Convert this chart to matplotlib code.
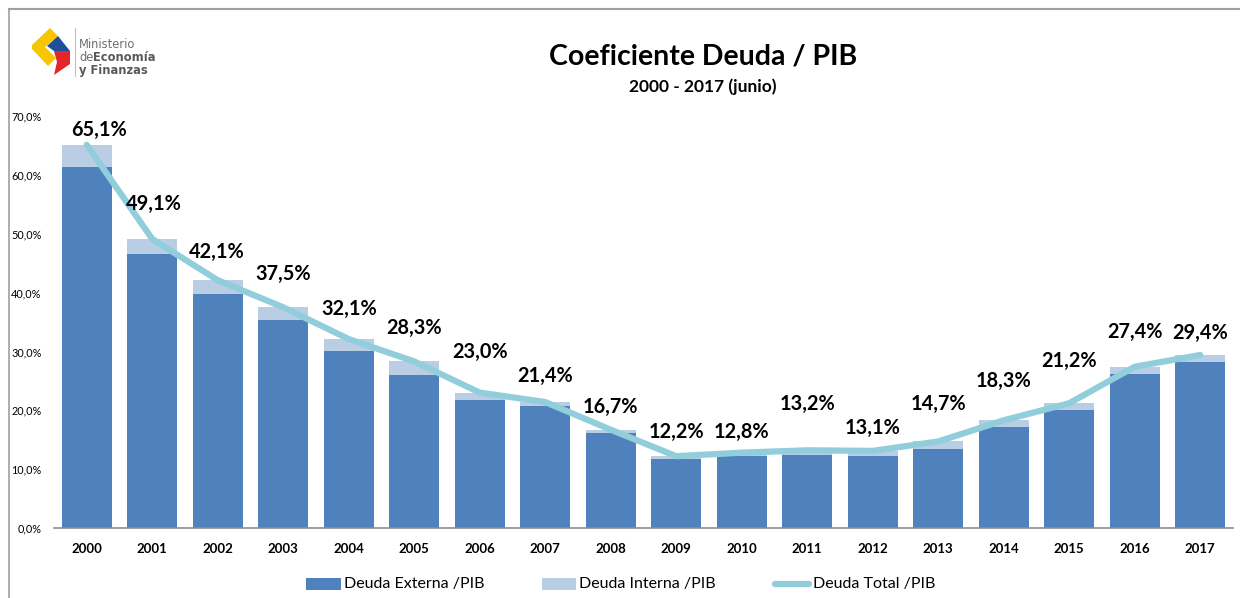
import matplotlib
matplotlib.use('Agg')
import matplotlib.pyplot as plt
from matplotlib.patches import Polygon, Rectangle
from matplotlib.lines import Line2D

years = ['2000', '2001', '2002', '2003', '2004', '2005', '2006', '2007', '2008',
         '2009', '2010', '2011', '2012', '2013', '2014', '2015', '2016', '2017']
deuda_total = [65.1, 49.1, 42.1, 37.5, 32.1, 28.3, 23.0, 21.4, 16.7,
               12.2, 12.8, 13.2, 13.1, 14.7, 18.3, 21.2, 27.4, 29.4]
deuda_externa = [61.3, 46.5, 39.8, 35.3, 30.1, 26.0, 21.7, 20.7, 16.1,
                 11.7, 12.2, 12.4, 12.2, 13.4, 17.2, 20.0, 26.2, 28.2]
deuda_interna = [round(t - e, 1) for t, e in zip(deuda_total, deuda_externa)]
y_ticks = [0, 10, 20, 30, 40, 50, 60, 70]

# label offsets from the line point (pixels)
lift = [15, 35, 28, 33, 30, 33, 41, 26, 23, 24, 21, 46, 23, 38, 39, 42, 35, 22]
shift = [12, 2, -1, 0, 0, 0, 0, 0, 0, 0, 0, 0, 0, 0, 0, 0, 0, 0]

plt.rcParams['font.family'] = ['Lato', 'DejaVu Sans']

fig = plt.figure(figsize=(12.4, 5.98), dpi=100)
W, H = 1240, 598
ax = fig.add_axes([54 / W, 1 - 528 / H, (1233 - 54) / W, (528 - 116) / H])

x = list(range(len(years)))
c_ext = '#4F81BD'
c_int = '#B9CDE5'
c_tot = '#92CDDC'

ax.bar(x, deuda_externa, width=0.76, color=c_ext, zorder=2)
ax.bar(x, deuda_interna, width=0.76, bottom=deuda_externa, color=c_int, zorder=2)
ax.plot(x, deuda_total, color=c_tot, lw=4.5, solid_capstyle='round', zorder=3)

for i, v in enumerate(deuda_total):
    ax.annotate(('%.1f%%' % v).replace('.', ','), (i, v), xytext=(shift[i], lift[i]),
                textcoords='offset pixels', ha='center', va='center',
                fontsize=14.3, fontweight='bold', color='black', zorder=4)

ax.set_xlim(-0.5, 17.5)
ax.set_ylim(0, 70)
ax.set_yticks(y_ticks)
ax.set_yticklabels([('%.1f%%' % t).replace('.', ',') for t in y_ticks], fontsize=7.8)
ax.set_xticks(x)
ax.set_xticklabels(years, fontsize=9.5, fontweight='bold')
ax.tick_params(axis='both', length=0)
ax.tick_params(axis='y', pad=9)
ax.tick_params(axis='x', pad=11)
for s in ['top', 'right', 'left']:
    ax.spines[s].set_visible(False)
ax.spines['bottom'].set_color('#8C8C8C')
ax.spines['bottom'].set_linewidth(1.2)

# outer frame lines
fig.add_artist(Line2D([9 / W, 9 / W], [0, 1 - 9 / H], transform=fig.transFigure,
                      color='#A0A0A0', lw=1.2))
fig.add_artist(Line2D([9 / W, 1], [1 - 9 / H, 1 - 9 / H], transform=fig.transFigure,
                      color='#A0A0A0', lw=1.5))

# title
fig.text(703 / W, 1 - 57 / H, 'Coeficiente Deuda / PIB', ha='center', va='center',
         fontsize=20.5, fontweight='bold')
fig.text(703 / W, 1 - 87 / H, '2000 - 2017 (junio)', ha='center', va='center',
         fontsize=12.5, fontweight='bold')

# logo
def fpoly(pts, color):
    fig.add_artist(Polygon([(px / W, 1 - py / H) for px, py in pts], closed=True,
                           transform=fig.transFigure, color=color, lw=0))

fpoly([(50, 28), (58, 36), (45, 47), (56, 58), (48, 66), (32, 49), (32, 45)], '#F7C600')
fpoly([(58, 36), (70, 51), (54, 51), (47, 46)], '#1F4E9C')
fpoly([(54, 51), (70, 51), (70, 64), (54, 75), (57, 62)], '#E3262B')
fig.add_artist(Line2D([75 / W, 75 / W], [1 - 28 / H, 1 - 76 / H], transform=fig.transFigure,
                      color='#C0C0C0', lw=0.8))
fig.text(79 / W, 1 - 48 / H, 'Ministerio', fontsize=8.3, color='#6E6E6E',
         family='DejaVu Sans', va='baseline')
fig.text(79 / W, 1 - 61 / H, 'de', fontsize=8.3, color='#6E6E6E',
         family='DejaVu Sans', va='baseline')
fig.text(93 / W, 1 - 61 / H, 'Economía', fontsize=8.3, color='#5A5A5A', fontweight='bold',
         family='DejaVu Sans', va='baseline')
fig.text(79 / W, 1 - 74 / H, 'y Finanzas', fontsize=8.3, color='#5A5A5A', fontweight='bold',
         family='DejaVu Sans', va='baseline')

# legend
ly = 1 - 584 / H
fig.add_artist(Rectangle((306 / W, ly - 6 / H), 35 / W, 12 / H, transform=fig.transFigure,
                         color=c_ext, lw=0))
fig.text(344 / W, ly, 'Deuda Externa /PIB', fontsize=11.5, va='center')
fig.add_artist(Rectangle((542 / W, ly - 6 / H), 34 / W, 12 / H, transform=fig.transFigure,
                         color=c_int, lw=0))
fig.text(579 / W, ly, 'Deuda Interna /PIB', fontsize=11.5, va='center')
fig.add_artist(Line2D([775 / W, 809 / W], [ly, ly], transform=fig.transFigure,
                      color=c_tot, lw=4.5, solid_capstyle='round'))
fig.text(813 / W, ly, 'Deuda Total /PIB', fontsize=11.5, va='center')

fig.savefig('out.png', dpi=100, facecolor='white')
